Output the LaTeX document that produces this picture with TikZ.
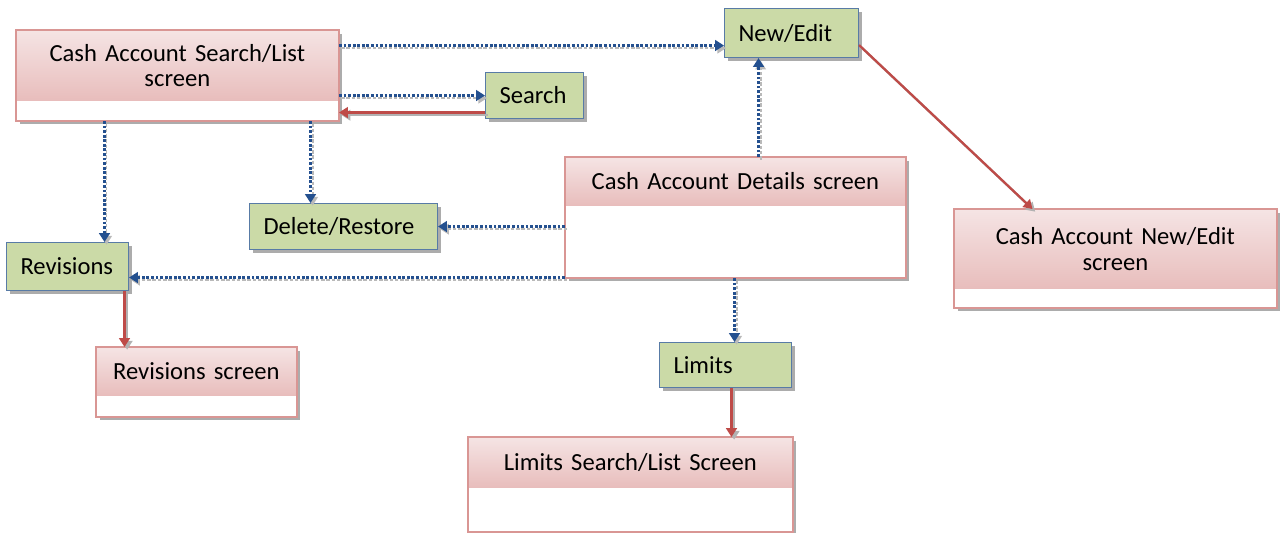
\documentclass[tikz,border=0pt]{standalone}
\usepackage{fontspec}
\setmainfont{Carlito}
\usetikzlibrary{arrows.meta,shadows}

\definecolor{screenline}{HTML}{D99694}
\definecolor{screentop}{HTML}{F5E4E4}
\definecolor{screenbot}{HTML}{E8BDBC}
\definecolor{actfill}{HTML}{CBDAA7}
\definecolor{actline}{HTML}{587BA6}
\definecolor{linkblue}{HTML}{24508F}
\definecolor{linkred}{HTML}{BE4B48}

\tikzset{
	boxshadow/.style={drop shadow={shadow xshift=1.8pt, shadow yshift=-1.8pt, fill=gray!65, opacity=1}},
	screenbox/.style={draw=screenline, fill=white, line width=0.6pt, inner sep=0pt, anchor=north west, boxshadow},
	screenhead/.style={top color=screentop, bottom color=screenbot, inner sep=0pt, anchor=north west, align=center},
	actbox/.style={draw=actline, fill=actfill, line width=0.6pt, inner xsep=0.28cm, inner ysep=0pt, anchor=north west, align=left, boxshadow},
	bluelink/.style={draw=linkblue, line width=1.3pt, dash pattern=on 1.6pt off 1pt, -{Triangle[length=5pt,width=6pt]},
		preaction={draw=gray!55, line width=1pt, dash pattern=on 2pt off 1pt, transform canvas={shift={(1.2pt,-1.5pt)}}}},
	redlink/.style={draw=linkred, line width=1.3pt, -{Triangle[length=5pt,width=6pt]},
		preaction={draw=gray!60, line width=1.3pt, transform canvas={shift={(1.5pt,-1.5pt)}}}}
}

\begin{document}
\begin{tikzpicture}[x=0.02cm, y=-0.02cm, font=\fontsize{14}{14.5}\selectfont]
	\useasboundingbox (0,0) rectangle (1280,532);

	% Screens
	\node[screenbox, minimum width=6.44cm, minimum height=1.8cm] (cashlist) at (16,30) {};
	\node[screenhead, minimum width=6.44cm, minimum height=1.4cm, text width=6.2cm] at (16,30) {Cash Account Search/List\\screen};
	\draw[screenline, line width=0.6pt] (cashlist.north west) rectangle (cashlist.south east);

	\node[screenbox, minimum width=6.8cm, minimum height=2.4cm] (details) at (565,157) {};
	\node[screenhead, minimum width=6.8cm, minimum height=0.96cm, text width=6.6cm] at (565,157) {Cash Account Details screen};
	\draw[screenline, line width=0.6pt] (details.north west) rectangle (details.south east);

	\node[screenbox, minimum width=6.44cm, minimum height=1.96cm] (editscreen) at (954,209) {};
	\node[screenhead, minimum width=6.44cm, minimum height=1.58cm, text width=6.2cm] at (954,209) {Cash Account New/Edit\\screen};
	\draw[screenline, line width=0.6pt] (editscreen.north west) rectangle (editscreen.south east);

	\node[screenbox, minimum width=4cm, minimum height=1.38cm] (revscreen) at (96,347) {};
	\node[screenhead, minimum width=4cm, minimum height=0.96cm, text width=3.8cm] at (96,347) {Revisions screen};
	\draw[screenline, line width=0.6pt] (revscreen.north west) rectangle (revscreen.south east);

	\node[screenbox, minimum width=6.48cm, minimum height=1.88cm] (limitscreen) at (468,437) {};
	\node[screenhead, minimum width=6.48cm, minimum height=1cm, text width=6.2cm] at (468,437) {Limits Search/List Screen};
	\draw[screenline, line width=0.6pt] (limitscreen.north west) rectangle (limitscreen.south east);

	% Actions
	\node[actbox, text width=2.12cm, minimum height=0.98cm] (newedit) at (724,8) {New/Edit};
	\node[actbox, text width=1.4cm, minimum height=0.92cm] (search) at (485,72) {Search};
	\node[actbox, text width=3.2cm, minimum height=0.92cm] (delres) at (249,203) {Delete/Restore};
	\node[actbox, text width=1.88cm, minimum height=0.96cm] (revisions) at (6,242) {Revisions};
	\node[actbox, text width=2.08cm, minimum height=0.9cm] (limits) at (659,342) {Limits};

	% Link ends
	\coordinate (neweditin) at ([yshift=-0.25cm]newedit.west);
	\coordinate (searchout) at ([yshift=-0.34cm]search.west);
	\coordinate (revin) at ([xshift=0.74cm]revisions.north);
	\coordinate (delin) at ([xshift=-0.66cm]delres.north);
	\coordinate (revside) at ([yshift=-0.22cm]revisions.east);
	\coordinate (neweditup) at ([xshift=-0.66cm]newedit.south);
	\coordinate (limitsin) at ([xshift=0.18cm]limits.north);
	\coordinate (neweditout) at ([yshift=-0.24cm]newedit.east);
	\coordinate (editscreenin) at ([xshift=-1.66cm]editscreen.north);
	\coordinate (revscreenin) at ([xshift=-1.44cm]revscreen.north);
	\coordinate (limitscreenin) at ([xshift=2.02cm]limitscreen.north);

	% Dotted links
	\draw[bluelink] (cashlist.east |- neweditin) -- (neweditin);
	\draw[bluelink] (cashlist.east |- search.west) -- (search.west);
	\draw[bluelink] (cashlist.south -| revin) -- (revin);
	\draw[bluelink] (cashlist.south -| delin) -- (delin);
	\draw[bluelink] (details.west |- delres.east) -- (delres.east);
	\draw[bluelink] (details.west |- revside) -- (revside);
	\draw[bluelink] (details.north -| neweditup) -- (neweditup);
	\draw[bluelink] (details.south -| limitsin) -- (limitsin);

	% Solid links
	\draw[redlink] (searchout) -- (cashlist.east |- searchout);
	\draw[redlink] (neweditout) -- (editscreenin);
	\draw[redlink] (revisions.south -| revscreenin) -- (revscreenin);
	\draw[redlink] (limits.south -| limitscreenin) -- (limitscreenin);
\end{tikzpicture}
\end{document}
